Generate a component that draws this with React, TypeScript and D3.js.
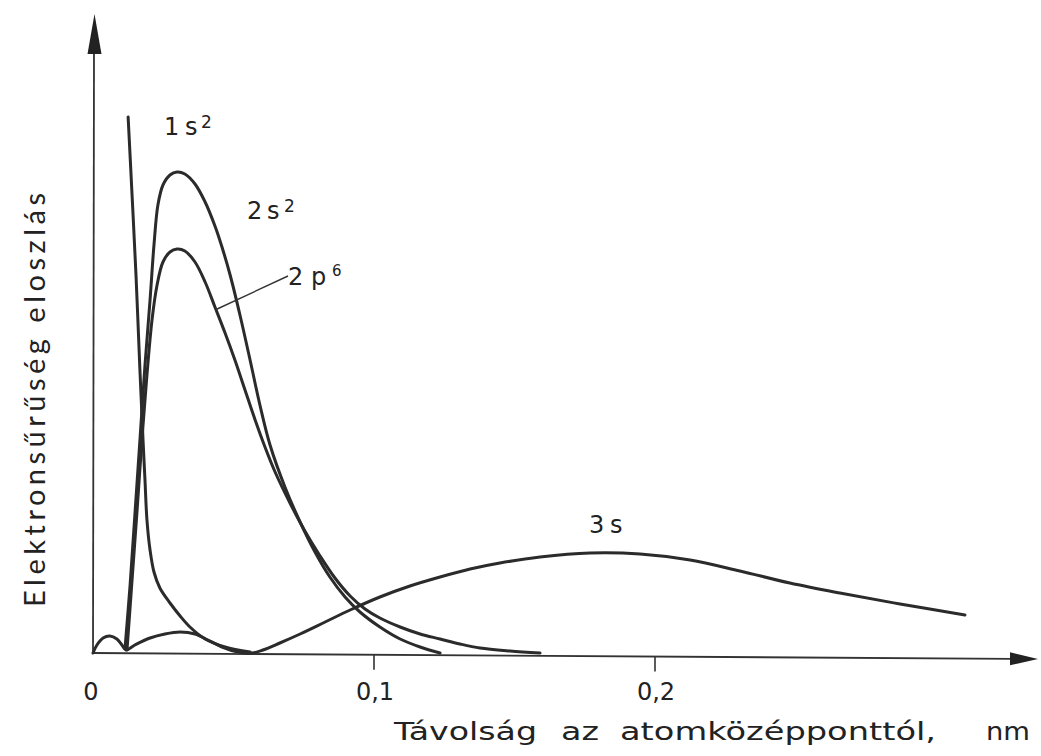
import React from "react";
import * as d3 from "d3";

// distance from nucleus (nm), relative electron density
const s1: [number, number][] = [
  [0.0125, 1.072], [0.0139, 0.916], [0.0153, 0.756], [0.0167, 0.566], [0.0178, 0.426],
  [0.0185, 0.346], [0.0192, 0.266], [0.0203, 0.206], [0.0217, 0.162], [0.0238, 0.13],
  [0.0274, 0.1], [0.031, 0.074], [0.0345, 0.052], [0.0399, 0.028], [0.047, 0.012],
  [0.0559, 0.002],
];

const s2: [number, number][] = [
  [0.0114, 0.01], [0.0132, 0.136], [0.0149, 0.276], [0.0167, 0.426], [0.0185, 0.576],
  [0.0203, 0.706], [0.0217, 0.816], [0.0231, 0.896], [0.0249, 0.936], [0.0274, 0.956],
  [0.0299, 0.962], [0.0327, 0.958], [0.0363, 0.938], [0.0399, 0.902], [0.0434, 0.854],
  [0.0459, 0.812], [0.0488, 0.756], [0.0523, 0.676], [0.0559, 0.586], [0.0594, 0.496],
  [0.063, 0.416], [0.0683, 0.332], [0.0737, 0.262], [0.079, 0.202], [0.0843, 0.152],
  [0.0897, 0.112], [0.095, 0.082], [0.1021, 0.052], [0.1093, 0.028], [0.1164, 0.012],
  [0.1235, 0],
];

const p2: [number, number][] = [
  [0.0121, 0.006], [0.0139, 0.146], [0.0157, 0.286], [0.0174, 0.426], [0.0192, 0.556],
  [0.021, 0.666], [0.0228, 0.736], [0.0249, 0.782], [0.0274, 0.802], [0.0299, 0.808],
  [0.0327, 0.804], [0.0363, 0.782], [0.0399, 0.742], [0.0434, 0.692], [0.047, 0.64],
  [0.0505, 0.586], [0.0541, 0.526], [0.0577, 0.466], [0.0612, 0.412], [0.0648, 0.362],
  [0.0701, 0.3], [0.0754, 0.244], [0.0808, 0.194], [0.0861, 0.15], [0.0915, 0.114],
  [0.0968, 0.088], [0.1021, 0.07], [0.1093, 0.052], [0.1164, 0.038], [0.1235, 0.028],
  [0.1306, 0.018], [0.1377, 0.01], [0.1484, 0.004], [0.1591, 0],
];

const s3: [number, number][] = [
  [0, 0], [0.0014, 0.016], [0.0036, 0.03], [0.006, 0.034], [0.0085, 0.028],
  [0.0103, 0.016], [0.0117, 0.006], [0.0149, 0.016], [0.0203, 0.03], [0.0256, 0.038],
  [0.031, 0.042], [0.0363, 0.038], [0.0409, 0.026], [0.0459, 0.012], [0.0516, 0.002],
  [0.0566, 0], [0.0605, 0.006], [0.0665, 0.02], [0.0737, 0.038], [0.0826, 0.062],
  [0.0915, 0.086], [0.1021, 0.112], [0.1128, 0.134], [0.1235, 0.152], [0.1342, 0.168],
  [0.1448, 0.18], [0.1591, 0.192], [0.1769, 0.2], [0.1947, 0.198], [0.2125, 0.186],
  [0.2302, 0.164], [0.248, 0.14], [0.2658, 0.12], [0.2872, 0.098], [0.3103, 0.076],
];

const xTickValues = [0, 0.1, 0.2];
const xTickLabels = ["0", "0,1", "0,2"];
const yLabel = "Elektronsűrűség eloszlás";
const xLabelWords = ["Távolság", "az", "atomközépponttól,", "nm"];

export default function App() {
  const W = 1041, H = 756;
  const x = d3.scaleLinear().domain([0, 0.1]).range([93, 374]);
  const y = d3.scaleLinear().domain([0, 1]).range([653, 153]);
  const line = d3
    .line<[number, number]>()
    .x((d) => x(d[0]))
    .y((d) => y(d[1]))
    .curve(d3.curveCatmullRom.alpha(0.5));

  const x0 = x(0), y0 = y(0);
  const xTip = 1038;
  const tilt = 6 / (xTip - x0);
  const axisY = (px: number) => y0 + (px - x0) * tilt;

  const ink = "#2b2b2b";
  const font = "'DejaVu Sans', sans-serif";
  const series = [s1, s2, p2, s3];

  const wordX = [394, 561, 620, 986];
  const wordLen = [143, 38, 316, 44];

  return (
    <svg width={W} height={H} style={{ position: "absolute", left: 0, top: 0, background: "#fff" }}>
      <rect width={W} height={H} fill="#fff" />
      {/* y axis */}
      <line x1={x0} y1={y0} x2={x0 + 1} y2={50} stroke="#333" strokeWidth={1.8} />
      <path d={`M${x0 + 1.5},14 L${x0 + 8.5},54 L${x0 - 5.5},54 Z`} fill="#222" />
      {/* x axis */}
      <line x1={x0} y1={y0} x2={1012} y2={axisY(1012)} stroke="#333" strokeWidth={1.8} />
      <path
        d={`M${xTip},${axisY(xTip)} L1010,${axisY(1010) - 6.5} L1010,${axisY(1010) + 6.5} Z`}
        fill="#222"
      />
      {xTickValues.map((v, i) => (
        <g key={i}>
          {v !== 0 && (
            <line x1={x(v)} x2={x(v)} y1={axisY(x(v))} y2={axisY(x(v)) + 15} stroke="#333" strokeWidth={1.6} />
          )}
          <text
            x={v === 0 ? x(v) - 2 : x(v) + 1}
            y={700}
            textAnchor="middle"
            fontFamily={font}
            fontSize={24}
            fill="#222"
          >
            {xTickLabels[i]}
          </text>
        </g>
      ))}
      {/* curves */}
      {series.map((s, i) => (
        <path key={i} d={line(s) ?? ""} fill="none" stroke={ink} strokeWidth={3} strokeLinecap="round" strokeLinejoin="round" />
      ))}
      {/* 2p leader */}
      <line x1={288} y1={276} x2={215} y2={310} stroke="#333" strokeWidth={1.4} />
      {/* labels */}
      <g fontFamily={font} fill="#222" fontSize={24}>
        <text x={164} y={135}>1</text>
        <text x={185} y={135}>s</text>
        <text x={201} y={128} fontSize={17}>2</text>
        <text x={247} y={219}>2</text>
        <text x={267} y={219}>s</text>
        <text x={284} y={212} fontSize={17}>2</text>
        <text x={288} y={285}>2</text>
        <text x={311} y={285}>p</text>
        <text x={332} y={276} fontSize={15}>6</text>
        <text x={589} y={533}>3</text>
        <text x={610} y={533}>s</text>
      </g>
      {/* x axis title */}
      {xLabelWords.map((w, i) => (
        <text
          key={i}
          x={wordX[i]}
          y={740}
          fontFamily={font}
          fontSize={25}
          fill="#222"
          textLength={wordLen[i]}
          lengthAdjust="spacingAndGlyphs"
        >
          {w}
        </text>
      ))}
      {/* y axis title */}
      <text
        transform="translate(45,400) rotate(-90)"
        textAnchor="middle"
        fontFamily="Lato, 'Open Sans', sans-serif"
        fontSize={29}
        fill="#222"
        textLength={414}
        lengthAdjust="spacing"
      >
        {yLabel}
      </text>
    </svg>
  );
}
